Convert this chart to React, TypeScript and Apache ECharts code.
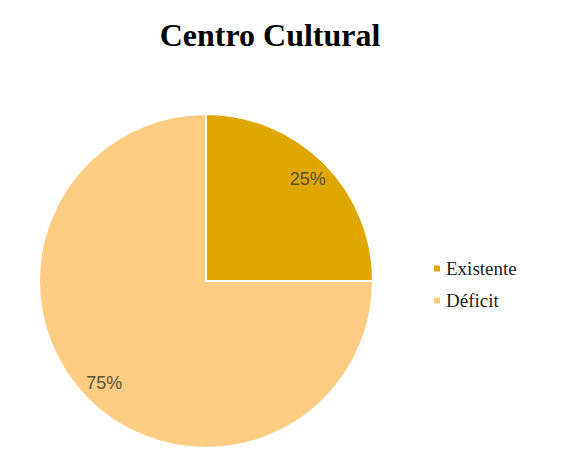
import React, { useEffect, useRef } from "react";
import * as echarts from "echarts";

const categories = ["Existente", "Déficit"];
const values = [25, 75];
const colors = ["#DFA700", "#FECC82"];

export default function App() {
  const ref = useRef<HTMLDivElement>(null);
  useEffect(() => {
    if (!ref.current) return;
    const chart = echarts.init(ref.current, undefined, { renderer: "svg" });
    const data = categories.map((name, i) => ({ name, value: values[i], itemStyle: { color: colors[i] } }));
    chart.setOption({
      animation: false,
      backgroundColor: "#ffffff",
      title: {
        text: "Centro Cultural",
        left: 265,
        top: 14,
        textAlign: "center",
        textStyle: { fontFamily: "Liberation Serif", fontWeight: "bold", fontSize: 32, color: "#000" },
      },
      legend: {
        orient: "vertical",
        left: 427,
        top: 254,
        itemWidth: 8,
        itemHeight: 8,
        itemGap: 13,
        icon: "rect",
        data: categories,
        textStyle: { fontFamily: "Liberation Serif", fontSize: 19, color: "#222" },
      },
      series: [
        {
          type: "pie",
          center: [206, 281],
          radius: [0, 167],
          startAngle: 90,
          clockwise: true,
          data,
          label: { show: false },
          labelLine: { show: false },
          itemStyle: { borderColor: "#ffffff", borderWidth: 2 },
          emphasis: { disabled: true },
        },
        {
          type: "pie",
          center: [206, 281],
          radius: [115, 167],
          startAngle: 90,
          clockwise: true,
          silent: true,
          data: categories.map((name, i) => ({ name, value: values[i] })),
          itemStyle: { color: "transparent" },
          label: {
            show: true,
            position: "inside",
            formatter: (p: any) => `${p.value}%`,
            fontFamily: "Liberation Sans",
            fontSize: 18,
            color: "#5b5236",
          },
          labelLine: { show: false },
          emphasis: { disabled: true },
        },
      ],
    });
    return () => chart.dispose();
  }, []);
  return <div ref={ref} style={{ position: "fixed", left: 0, top: 0, width: 572, height: 450 }} />;
}
